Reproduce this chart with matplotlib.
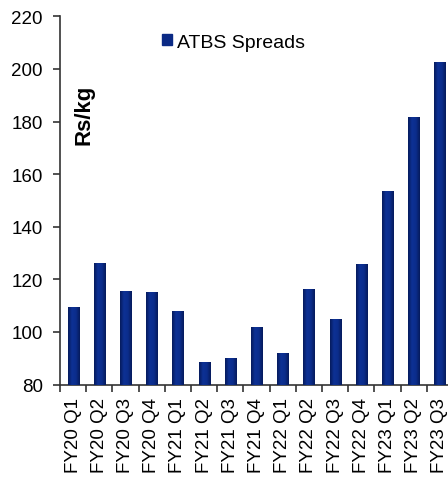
import numpy as np
import matplotlib
matplotlib.use("Agg")
import matplotlib.pyplot as plt
from matplotlib.patches import Patch
from matplotlib.colors import LinearSegmentedColormap

# datos
trimestres = ["FY20 Q1", "FY20 Q2", "FY20 Q3", "FY20 Q4",
              "FY21 Q1", "FY21 Q2", "FY21 Q3", "FY21 Q4",
              "FY22 Q1", "FY22 Q2", "FY22 Q3", "FY22 Q4",
              "FY23 Q1", "FY23 Q2", "FY23 Q3"]
spreads = [109.3, 126.3, 115.6, 115.0,
           108.1, 88.4, 89.9, 101.7,
           91.8, 116.5, 104.8, 126.0,
           153.4, 181.9, 202.8]
yticks = [80, 100, 120, 140, 160, 180, 200, 220]

plt.rcParams['font.family'] = ['Liberation Sans', 'DejaVu Sans']

fig = plt.figure(figsize=(4.48, 4.81), dpi=100)
ax = fig.add_axes([0.134, 0.1985, 0.877, 0.7655])

x = np.arange(len(trimestres))
ancho = 0.42
barras = ax.bar(x, spreads, width=ancho, bottom=0, color="#0b2a85", zorder=2)

# degradado horizontal dentro de cada barra (oscuro en bordes, claro al centro)
cmap = LinearSegmentedColormap.from_list("navy", ["#061b5c", "#0d3195", "#0b2d8c", "#061b5c"])
grad = np.linspace(0, 1, 64).reshape(1, -1)
for b in barras:
    im = ax.imshow(grad, cmap=cmap, aspect="auto", zorder=3,
                   extent=[b.get_x(), b.get_x() + b.get_width(), 80, b.get_height()])
    im.set_clip_path(b)

ax.set_xlim(-0.5, len(trimestres) - 0.5)
ax.set_ylim(80, 220)
ax.set_yticks(yticks)

# marcas en los limites de cada categoria, etiquetas en el centro
ax.set_xticks(np.arange(-0.5, len(trimestres), 1))
ax.set_xticklabels([])
ax.set_xticks(x, minor=True)
ax.set_xticklabels(trimestres, minor=True, rotation=90, fontsize=13.5)
ax.tick_params(axis="x", which="minor", length=0, pad=9)
ax.tick_params(axis="x", which="major", length=5, width=1.2, color="#333333")
ax.tick_params(axis="y", length=5, width=1.2, color="#333333", labelsize=13.5, pad=7.5)

for s in ["top", "right"]:
    ax.spines[s].set_visible(False)
for s in ["left", "bottom"]:
    ax.spines[s].set_color("#333333")
    ax.spines[s].set_linewidth(1.2)

ax.text(0.062, 0.735, "Rs/kg", transform=ax.transAxes, rotation=90,
        fontsize=16, fontweight="bold", ha="center", va="center")

ax.legend(handles=[Patch(color="#0b2a85", label="ATBS Spreads")],
          loc="upper left", bbox_to_anchor=(0.344, 0.944), bbox_transform=fig.transFigure,
          frameon=False, fontsize=14, handlelength=0.52, handleheight=0.52,
          handletextpad=0.26, borderaxespad=0)

fig.savefig("out.png", dpi=100)
